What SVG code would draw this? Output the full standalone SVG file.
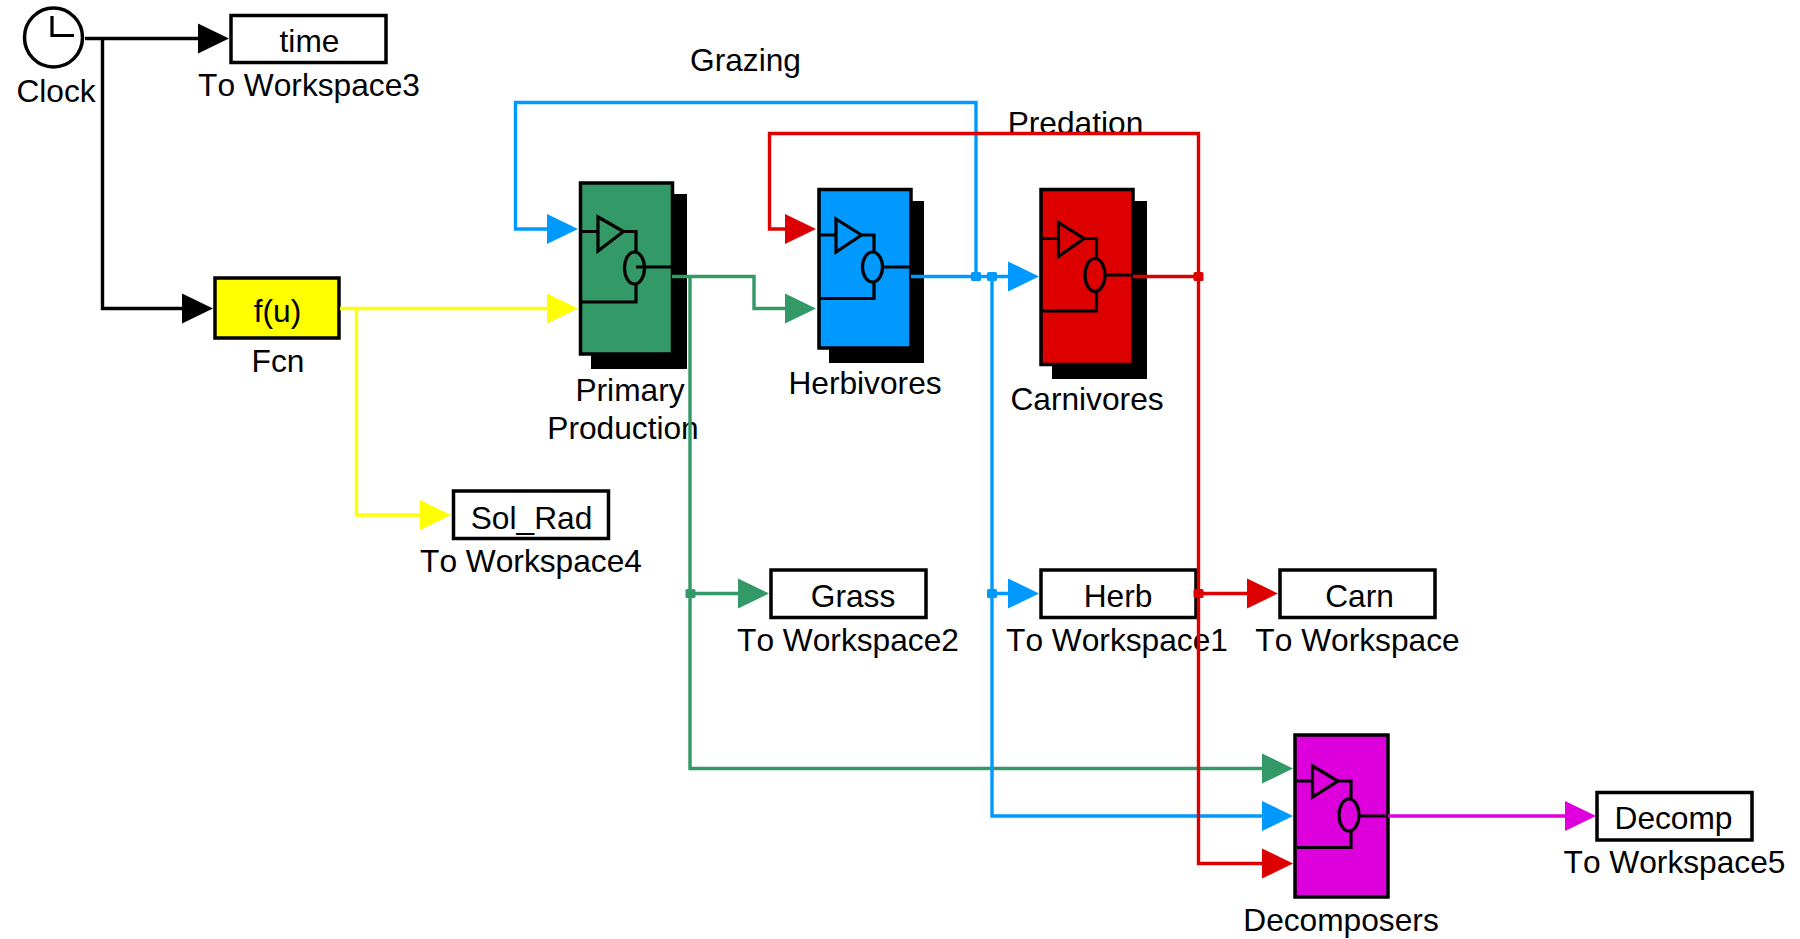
<svg xmlns="http://www.w3.org/2000/svg" width="1800" height="939" viewBox="0 0 1800 939">
<style>
text{font-family:"Liberation Sans",Arial,sans-serif;font-size:31.7px;fill:#000;text-anchor:middle;font-kerning:none}
.b{fill:#fff;stroke:#000;stroke-width:3.5}
.s{fill:#000;stroke:none}
.i{fill:none;stroke:#000;stroke-width:3.2}
.c{fill:none;stroke-width:3.4}
</style>
<defs>
<marker id="mk" markerUnits="userSpaceOnUse" markerWidth="32" markerHeight="32" refX="0" refY="16" orient="auto" overflow="visible"><path d="M0 1L31 16L0 31Z" fill="#000"/></marker>
<marker id="my" markerUnits="userSpaceOnUse" markerWidth="32" markerHeight="32" refX="0" refY="16" orient="auto" overflow="visible"><path d="M0 1L31 16L0 31Z" fill="#FFFF00"/></marker>
<marker id="mb" markerUnits="userSpaceOnUse" markerWidth="32" markerHeight="32" refX="0" refY="16" orient="auto" overflow="visible"><path d="M0 1L31 16L0 31Z" fill="#0099FF"/></marker>
<marker id="mg" markerUnits="userSpaceOnUse" markerWidth="32" markerHeight="32" refX="0" refY="16" orient="auto" overflow="visible"><path d="M0 1L31 16L0 31Z" fill="#339966"/></marker>
<marker id="mr" markerUnits="userSpaceOnUse" markerWidth="32" markerHeight="32" refX="0" refY="16" orient="auto" overflow="visible"><path d="M0 1L31 16L0 31Z" fill="#DD0000"/></marker>
<marker id="mm" markerUnits="userSpaceOnUse" markerWidth="32" markerHeight="32" refX="0" refY="16" orient="auto" overflow="visible"><path d="M0 1L31 16L0 31Z" fill="#DD00DD"/></marker>
</defs>
<rect width="1800" height="939" fill="#fff"/>

<g id="clock">
<ellipse cx="53.500" cy="37.500" rx="29" ry="29.500" fill="#fff" stroke="#000" stroke-width="3.5"/>
<path d="M52 16V35.500H74" class="i"/>
<text x="56" y="102">Clock</text>
</g>
<g id="to-workspace3">
<rect x="231" y="15.500" width="155" height="47" class="b"/>
<text x="309.500" y="51.500">time</text>
<text x="309" y="96">To Workspace3</text>
</g>
<g id="fcn">
<rect x="215" y="278" width="124" height="60" fill="#FFFF00" stroke="#000" stroke-width="3.5"/>
<text x="277.500" y="322">f(u)</text>
<text x="278" y="372">Fcn</text>
</g>
<g id="primary-production">
<rect x="591" y="194" width="96" height="175" class="s"/>
<rect x="580.500" y="183" width="92" height="171" fill="#339966" stroke="#000" stroke-width="3.5"/>
<path d="M580 231.500H598M598 217L623.500 231.500L598 251ZM623.500 231.500H636V253M636 284V302H580M636 267H672" class="i"/>
<ellipse cx="634.500" cy="268" rx="10" ry="16" class="i"/>
<text x="630" y="401">Primary</text>
<text x="623" y="439">Production</text>
</g>
<g id="herbivores">
<rect x="829" y="201" width="95" height="162" class="s"/>
<rect x="819" y="189.500" width="92" height="158.500" fill="#0099FF" stroke="#000" stroke-width="3.5"/>
<path d="M819 235H836M836 219L861.500 235L836 252ZM861.500 235H874V252M874 282V298.500H819M883 267H911" class="i"/>
<ellipse cx="872.500" cy="267" rx="10" ry="15" class="i"/>
<text x="865" y="394">Herbivores</text>
</g>
<g id="carnivores">
<rect x="1052" y="201" width="95" height="178" class="s"/>
<rect x="1041" y="189.500" width="92" height="175" fill="#DD0000" stroke="#000" stroke-width="3.5"/>
<path d="M1041 238.500H1058.500M1058.500 222.500L1084 238.500L1058.500 256.500ZM1084 238.500H1096.500V258M1096.500 292V311H1041M1105 275H1133" class="i"/>
<ellipse cx="1095" cy="275" rx="10" ry="16.500" class="i"/>
<text x="1087" y="410">Carnivores</text>
</g>
<g id="decomposers">
<rect x="1295" y="735" width="93" height="162" fill="#DD00DD" stroke="#000" stroke-width="3.5"/>
<path d="M1295 781H1312.500M1312.500 766L1338 781L1312.500 797ZM1338 781H1351V798M1351 831V847.500H1295M1359 816H1388" class="i"/>
<ellipse cx="1349" cy="815" rx="10" ry="16" class="i"/>
<text x="1341" y="931">Decomposers</text>
</g>
<g id="to-workspace4">
<rect x="453.500" y="491" width="155" height="47.500" class="b"/>
<text x="531.500" y="528.500">Sol_Rad</text>
<text x="531" y="572">To Workspace4</text>
</g>
<g id="to-workspace2">
<rect x="771" y="570" width="155" height="47.500" class="b"/>
<text x="853" y="607">Grass</text>
<text x="848" y="651">To Workspace2</text>
</g>
<g id="to-workspace1">
<rect x="1041" y="570" width="155" height="47.500" class="b"/>
<text x="1118" y="607">Herb</text>
<text x="1117" y="651">To Workspace1</text>
</g>
<g id="to-workspace">
<rect x="1280" y="570" width="155" height="47.500" class="b"/>
<text x="1359.500" y="607">Carn</text>
<text x="1357.500" y="651">To Workspace</text>
</g>
<g id="to-workspace5">
<rect x="1597" y="792.500" width="155" height="47.500" class="b"/>
<text x="1673.500" y="829">Decomp</text>
<text x="1674.500" y="873">To Workspace5</text>
</g>
<text x="745.500" y="71">Grazing</text>
<text x="1075.500" y="134">Predation</text>

<g id="connectors">
<g class="c" stroke="#000">
<path d="M85 38.500H198" marker-end="url(#mk)"/>
<path d="M102.500 38.500V308.500H182" marker-end="url(#mk)"/>
</g>
<g class="c" stroke="#FFFF00">
<path d="M340 308.500H547" marker-end="url(#my)"/>
<path d="M356.500 308.500V515H420" marker-end="url(#my)"/>
</g>
<g class="c" stroke="#339966">
<path d="M672 276.500H754V308.500H785" marker-end="url(#mg)"/>
<path d="M690 276.500V593.500H738" marker-end="url(#mg)"/>
<path d="M690 593.500V768.500H1262" marker-end="url(#mg)"/>
</g>
<g class="c" stroke="#0099FF">
<path d="M911 276.500H1008" marker-end="url(#mb)"/>
<path d="M976 276.500V102.500H515.500V229H547" marker-end="url(#mb)"/>
<path d="M992 276.500V593.500H1008" marker-end="url(#mb)"/>
<path d="M992 593.500V816H1262" marker-end="url(#mb)"/>
</g>
<g class="c" stroke="#DD0000">
<path d="M1133 276.500H1198.500V133.500H769.500V229H785" marker-end="url(#mr)"/>
<path d="M1198.500 276.500V593.500H1247" marker-end="url(#mr)"/>
<path d="M1198.500 593.500V863.500H1262" marker-end="url(#mr)"/>
</g>
<path d="M1388 816H1565" class="c" stroke="#DD00DD" marker-end="url(#mm)"/>
<rect x="685.500" y="589" width="10" height="9" rx="1.500" fill="#339966"/>
<rect x="971" y="272" width="10" height="9" rx="1.500" fill="#0099FF"/>
<rect x="987" y="272" width="10" height="9" rx="1.500" fill="#0099FF"/>
<rect x="987" y="589" width="10" height="9" rx="1.500" fill="#0099FF"/>
<rect x="1193.500" y="272" width="10" height="9" rx="1.500" fill="#DD0000"/>
<rect x="1193.500" y="589" width="10" height="9" rx="1.500" fill="#DD0000"/>
</g>
</svg>
